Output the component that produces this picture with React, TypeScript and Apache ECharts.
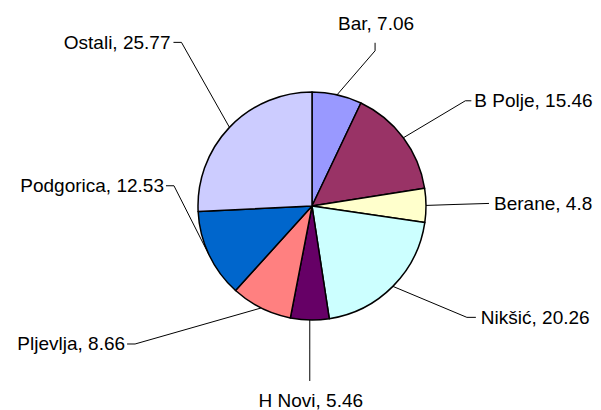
import React, { useEffect, useRef } from "react";
import * as echarts from "echarts";

const categories = ["Bar", "B Polje", "Berane", "Nikšić", "H Novi", "Pljevlja", "Podgorica", "Ostali"];
const values = [7.06, 15.46, 4.8, 20.26, 5.46, 8.66, 12.53, 25.77];
const colors = ["#9999FF", "#993366", "#FFFFCC", "#CCFFFF", "#660066", "#FF8080", "#0066CC", "#CCCCFF"];

// leader-line geometry: elbow offset from slice edge, end offset from elbow, label offset from end
const leaders = [
  { elbow: [38, -44], end: [0, -8], text: [1, -19], align: "center" },
  { elbow: [62, -37], end: [6, 0], text: [3, 0], align: "left" },
  { elbow: [30, -1], end: [33, -1], text: [5, 0], align: "left" },
  { elbow: [74, 31], end: [9, 0], text: [5, 0], align: "left" },
  { elbow: [0, 30], end: [0, 31], text: [1, 20], align: "center" },
  { elbow: [-126, 36], end: [-8, 0], text: [-2, 0], align: "right" },
  { elbow: [-35, -69], end: [-8, 0], text: [-2, 0], align: "right" },
  { elbow: [-48, -85], end: [-8, 0], text: [-3, 0], align: "right" },
];

const CX = 312;
const CY = 206;
const R = 114;

function edgePoint(index: number): number[] {
  const total = values.reduce((a, b) => a + b, 0);
  let before = 0;
  for (let i = 0; i < index; i++) before += values[i];
  const mid = ((before + values[index] / 2) / total) * Math.PI * 2;
  return [CX + R * Math.sin(mid), CY - R * Math.cos(mid)];
}

export default function App() {
  const ref = useRef<HTMLDivElement>(null);
  useEffect(() => {
    if (!ref.current) return;
    const chart = echarts.init(ref.current, null, { renderer: "svg" });
    chart.setOption({
      animation: false,
      backgroundColor: "#fff",
      series: [
        {
          type: "pie",
          center: [CX, CY],
          radius: R,
          startAngle: 90,
          clockwise: true,
          avoidLabelOverlap: false,
          itemStyle: { borderColor: "#000", borderWidth: 1.5 },
          label: {
            show: true,
            position: "outside",
            formatter: "{b}, {c}",
            color: "#000",
            fontFamily: "Liberation Sans, Arial, sans-serif",
            fontSize: 19,
          },
          labelLine: { show: true, lineStyle: { color: "#000", width: 1 } },
          emphasis: { disabled: true },
          labelLayout: (params: any) => {
            const i = params.dataIndex;
            const L = leaders[i];
            const p0 = edgePoint(i);
            const p1 = [p0[0] + L.elbow[0], p0[1] + L.elbow[1]];
            const p2 = [p1[0] + L.end[0], p1[1] + L.end[1]];
            return {
              x: p2[0] + L.text[0],
              y: p2[1] + L.text[1],
              align: L.align,
              verticalAlign: "middle",
              labelLinePoints: [p0, p1, p2],
            };
          },
          data: categories.map((name, i) => ({
            name,
            value: values[i],
            itemStyle: { color: colors[i] },
          })),
        },
      ],
    });
    return () => chart.dispose();
  }, []);
  return (
    <div
      ref={ref}
      style={{ position: "fixed", left: 0, top: 0, width: 601, height: 410 }}
    />
  );
}
